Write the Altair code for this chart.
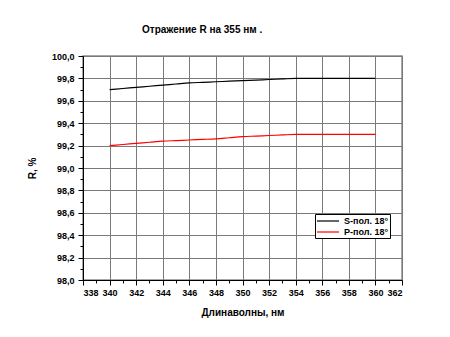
import altair as alt
import pandas as pd

wl = [340, 341, 342, 343, 344, 345, 346, 347, 348, 349, 350,
      351, 352, 353, 354, 355, 356, 357, 358, 359, 360]
s_pol = [99.70, 99.71, 99.72, 99.73, 99.74, 99.75, 99.76, 99.765, 99.77, 99.775, 99.78,
         99.785, 99.79, 99.795, 99.80, 99.80, 99.80, 99.80, 99.80, 99.80, 99.80]
p_pol = [99.20, 99.21, 99.22, 99.23, 99.24, 99.245, 99.25, 99.255, 99.26, 99.27, 99.28,
         99.285, 99.29, 99.295, 99.30, 99.30, 99.30, 99.30, 99.30, 99.30, 99.30]
series_names = ["S-пол. 18°", "P-пол. 18°"]
series_colors = ["#000000", "#ff0000"]

x_ticks = list(range(338, 363))
y_ticks = [round(98.0 + 0.1 * i, 1) for i in range(21)]

df = pd.DataFrame({
    "wl": wl * 2,
    "R": s_pol + p_pol,
    "series": [series_names[0]] * len(wl) + [series_names[1]] * len(wl),
})

FONT = "Liberation Sans"

chart = alt.Chart(df).mark_line(strokeWidth=1.2, interpolate="monotone").encode(
    x=alt.X("wl:Q", scale=alt.Scale(domain=[338, 362], nice=False, zero=False),
            axis=alt.Axis(
                title="Длинаволны, нм",
                values=x_ticks,
                labelExpr="datum.value % 2 == 0 ? datum.label : ''",
                format="d",
                grid=True,
                tickSize={"condition": {"test": "datum.value % 2 == 0", "value": 5}, "value": 3},
                gridColor={"condition": {"test": "datum.value % 2 == 0", "value": "#7a7a7a"},
                           "value": "rgba(0,0,0,0)"},
                labelPadding=3,
                titlePadding=10,
            )),
    y=alt.Y("R:Q", scale=alt.Scale(domain=[98.0, 100.0], nice=False, zero=False),
            axis=alt.Axis(
                title="R, %",
                values=y_ticks,
                labelExpr="round(datum.value*10) % 2 == 0 ? replace(format(datum.value, '.1f'), '.', ',') : ''",
                grid=True,
                tickSize={"condition": {"test": "round(datum.value*10) % 2 == 0", "value": 5}, "value": 3},
                gridColor={"condition": {"test": "round(datum.value*10) % 2 == 0", "value": "#7a7a7a"},
                           "value": "rgba(0,0,0,0)"},
                labelPadding=4,
                titlePadding=14,
            )),
    color=alt.Color("series:N",
                    scale=alt.Scale(domain=series_names, range=series_colors),
                    legend=alt.Legend(
                        title=None, orient="none", legendX=232, legendY=158,
                        symbolType="M-2.2,0H2.2", symbolSize=100, symbolStrokeWidth=1.2,
                        symbolOffset=6, labelOffset=10,
                        strokeColor="#000000", fillColor="#ffffff",
                        padding=1, rowPadding=0, labelFont=FONT, labelFontSize=9,
                        labelFontWeight="bold", labelColor="#000000",
                    )),
).properties(
    width=319,
    height=224,
    title=alt.TitleParams("Отражение R на 355 нм .", anchor="start", frame="group", dx=59,
                          offset=17, font=FONT, fontSize=10, fontWeight="bold", color="#000000"),
    padding={"left": 19, "top": 17, "right": 5, "bottom": 5},
).configure_axis(
    labelFont=FONT, labelFontSize=9, labelColor="#000000", labelFontWeight="bold",
    titleFont=FONT, titleFontSize=10, titleColor="#000000", titleFontWeight="bold",
    domainColor="#000000", tickColor="#000000",
).configure_view(stroke="#8a8a8a", strokeWidth=1.5)

chart.save("out.html", embed_options={"renderer": "svg", "actions": False})
